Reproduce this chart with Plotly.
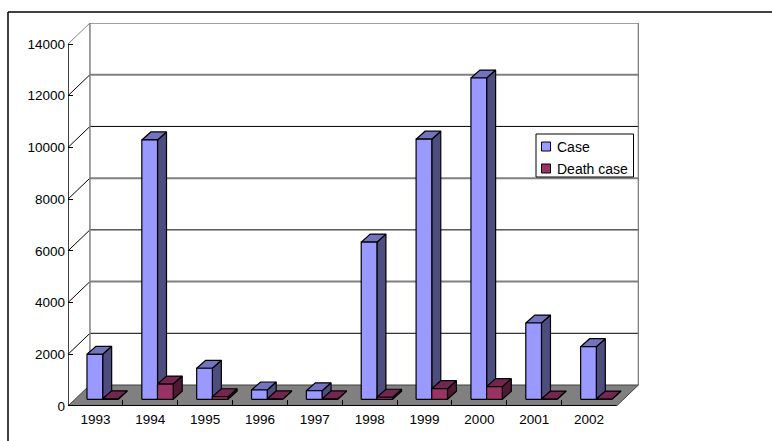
import plotly.graph_objects as go

# Annual counts shown as paired pseudo-3D columns
years = ["1993", "1994", "1995", "1996", "1997", "1998", "1999", "2000", "2001", "2002"]
cases = [1740, 10030, 1200, 360, 330, 6080, 10060, 12425, 2950, 2035]
deaths = [20, 590, 100, 15, 15, 80, 410, 490, 10, 10]
value_ticks = [0, 2000, 4000, 6000, 8000, 10000, 12000, 14000]

# Wall line colours and weights, bottom to top of the back wall
grid_colors = ["#000000", "#000000", "#808080", "#000000", "#808080", "#000000", "#808080", "#808080"]
grid_widths = [1, 1, 2, 1, 2, 1, 2, 1.5]

WIDTH, HEIGHT = 772, 441
LEFT, RIGHT, TOP, BOTTOM = 68, 133, 23, 35
X_MAX = 10.41
Y_MAX = 14812
WALL_DX, WALL_DY = 0.40, 812      # depth of the floor in axis units
BAR_X0, BAR_W = 0.346, 0.286      # first column offset and column width per category
BAR_BASE = 259                    # columns stand part way back on the floor
BAR_DX, BAR_DY = 0.164, 309       # column depth in axis units
FONT = "Liberation Sans"
FONT_SIZE = 13.5
KEY_FONT_SIZE = 14

BLUE = ("#9999FF", "#4D4D80", "#7373BF")
MAROON = ("#993366", "#4D1933", "#732650")


def px(x):
    return (x - LEFT) / (WIDTH - LEFT - RIGHT)


def py(y):
    return 1 - (y - TOP) / (HEIGHT - TOP - BOTTOM)


def poly(xs, ys, fill, line="#000000", width=1.2):
    return go.Scatter(
        x=xs, y=ys, mode="lines", fill="toself", fillcolor=fill,
        line=dict(color=line, width=width), hoverinfo="skip",
        showlegend=False, cliponaxis=False,
    )


def segment(xs, ys, color, width=1):
    return go.Scatter(
        x=xs, y=ys, mode="lines", line=dict(color=color, width=width),
        hoverinfo="skip", showlegend=False, cliponaxis=False,
    )


def column(left, value, colors):
    """Front, side and top faces of one column."""
    right = left + BAR_W
    bottom, top = BAR_BASE, BAR_BASE + value
    return [
        poly([right, right + BAR_DX, right + BAR_DX, right, right],
             [bottom, bottom + BAR_DY, top + BAR_DY, top, bottom], colors[1]),
        poly([left, right, right + BAR_DX, left + BAR_DX, left],
             [top, top, top + BAR_DY, top + BAR_DY, top], colors[2]),
        poly([left, right, right, left, left],
             [bottom, bottom, top, top, bottom], colors[0]),
    ]


fig = go.Figure()

# Back and side walls
for tick, color, width in zip(value_ticks[1:], grid_colors[1:], grid_widths[1:]):
    fig.add_trace(segment([WALL_DX, 10 + WALL_DX], [tick + WALL_DY, tick + WALL_DY], color, width))
for tick in value_ticks[1:]:
    diag = "#808080" if tick == 14000 else "#000000"
    fig.add_trace(segment([0, WALL_DX], [tick, tick + WALL_DY], diag))
top_wall = value_ticks[-1] + WALL_DY
fig.add_trace(segment([WALL_DX, WALL_DX], [WALL_DY, top_wall], "#808080", 1.5))
fig.add_trace(segment([10 + WALL_DX, 10 + WALL_DX], [WALL_DY, top_wall], "#808080", 1.5))

# Floor
fig.add_trace(poly([0, WALL_DX, 10 + WALL_DX, 10, 0], [0, WALL_DY, WALL_DY, 0, 0], "#808080", "#404040", 1))

# Columns, left to right so nearer faces overlap correctly
for i, (case, death) in enumerate(zip(cases, deaths)):
    left = i + BAR_X0
    for trace in column(left, case, BLUE):
        trace.name = "Case"
        fig.add_trace(trace)
    for trace in column(left + BAR_W, death, MAROON):
        trace.name = "Death case"
        fig.add_trace(trace)

# Front axis lines
fig.add_trace(segment([0, 10], [0, 0], "#000000", 2))
fig.add_trace(segment([0, 0], [0, value_ticks[-1]], "#000000", 1.5))

shapes = [
    # Outer frame: top and left edges only
    dict(type="line", xref="paper", yref="paper", x0=px(8), x1=px(WIDTH), y0=py(12), y1=py(12),
         line=dict(color="#000000", width=1.5)),
    dict(type="line", xref="paper", yref="paper", x0=px(8), x1=px(8), y0=py(12), y1=py(HEIGHT),
         line=dict(color="#000000", width=1.5)),
    # Key box and swatches
    dict(type="rect", xref="paper", yref="paper", x0=px(536), x1=px(633.5), y0=py(134), y1=py(177),
         fillcolor="#FFFFFF", line=dict(color="#000000", width=1), layer="above"),
    dict(type="rect", xref="paper", yref="paper", x0=px(541.5), x1=px(550.5), y0=py(142), y1=py(151),
         fillcolor=BLUE[0], line=dict(color="#000000", width=1), layer="above"),
    dict(type="rect", xref="paper", yref="paper", x0=px(541.5), x1=px(550.5), y0=py(164), y1=py(173),
         fillcolor=MAROON[0], line=dict(color="#000000", width=1), layer="above"),
]

annotations = [
    dict(text=label, xref="paper", yref="paper", x=px(554.5), y=py(y), xanchor="left", yanchor="middle",
         showarrow=False, font=dict(family=FONT, size=KEY_FONT_SIZE, color="#000000"))
    for label, y in (("Case", 147), ("Death case", 169))
]

fig.update_layout(
    width=WIDTH, height=HEIGHT,
    margin=dict(l=LEFT, r=RIGHT, t=TOP, b=BOTTOM, autoexpand=False),
    paper_bgcolor="#FFFFFF", plot_bgcolor="#FFFFFF",
    showlegend=False, shapes=shapes, annotations=annotations,
    font=dict(family=FONT, size=FONT_SIZE, color="#000000"),
    xaxis=dict(
        range=[0, X_MAX], showgrid=False, zeroline=False, showline=False,
        tickmode="array", tickvals=[i + 0.5 for i in range(len(years))], ticktext=years,
        ticks="outside", ticklen=1, tickcolor="rgba(0,0,0,0)",
        minor=dict(tickmode="array", tickvals=list(range(1, len(years))), ticks="inside",
                   ticklen=6, tickcolor="#000000", tickwidth=1, showgrid=False),
    ),
    yaxis=dict(
        range=[0, Y_MAX], showgrid=False, zeroline=False, showline=False,
        tickmode="array", tickvals=value_ticks, ticktext=[str(v) for v in value_ticks],
        ticks="inside", ticklen=5, tickcolor="#000000", tickwidth=1, ticklabelstandoff=2,
    ),
)

fig.write_html("out.html", config={"displayModeBar": False})
